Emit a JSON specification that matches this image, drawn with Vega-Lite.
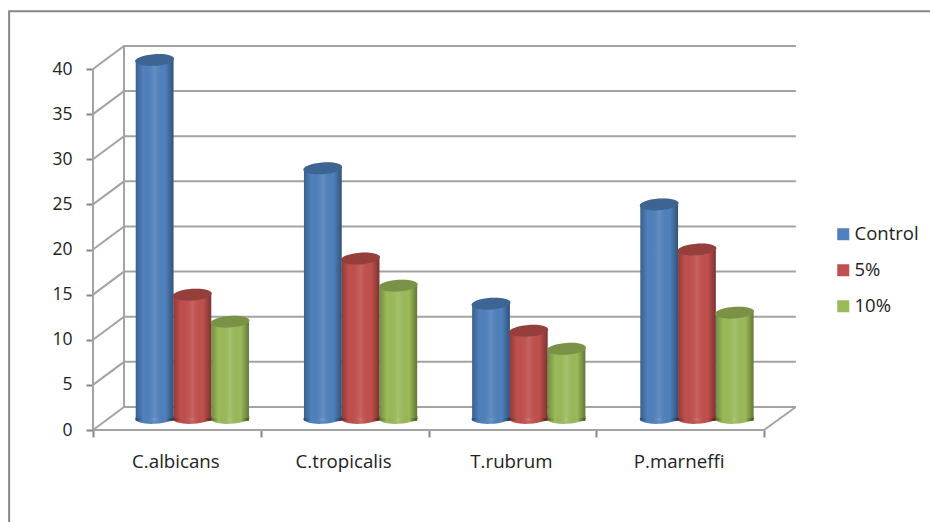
{
"$schema":"https://vega.github.io/schema/vega-lite/v6.json",
"width":671,"height":361,"autosize":"none",
"padding":{"left":93,"top":69,"right":166,"bottom":92},
"background":"white",
"config":{"view":{"stroke":null},"font":"Open Sans"},
"datasets":{
"frame":[{"fx":-0.5,"fy":-10.5},{"fx":-0.5,"fy":46.4},{"fx":5.1,"fy":46.4}],
"walls":[
{"line":"floorfront","gx":0,"gy":0},{"line":"floorfront","gx":4,"gy":0},
{"line":"floorright","gx":4,"gy":0},{"line":"floorright","gx":4.19,"gy":2.55},
{"line":"floorback","gx":0.185,"gy":2.55},{"line":"floorback","gx":4.19,"gy":2.55},
{"line":"floorleft","gx":0,"gy":0},{"line":"floorleft","gx":0.185,"gy":2.55},
{"line":"front","gx":0,"gy":0},{"line":"front","gx":0,"gy":40},
{"line":"back","gx":0.185,"gy":2.55},{"line":"back","gx":0.185,"gy":42.55},
{"line":"g5","gx":0,"gy":5},{"line":"g5","gx":0.185,"gy":7.55},{"line":"g5","gx":4.19,"gy":7.55},
{"line":"g10","gx":0,"gy":10},{"line":"g10","gx":0.185,"gy":12.55},{"line":"g10","gx":4.19,"gy":12.55},
{"line":"g15","gx":0,"gy":15},{"line":"g15","gx":0.185,"gy":17.55},{"line":"g15","gx":4.19,"gy":17.55},
{"line":"g20","gx":0,"gy":20},{"line":"g20","gx":0.185,"gy":22.55},{"line":"g20","gx":4.19,"gy":22.55},
{"line":"g25","gx":0,"gy":25},{"line":"g25","gx":0.185,"gy":27.55},{"line":"g25","gx":4.19,"gy":27.55},
{"line":"g30","gx":0,"gy":30},{"line":"g30","gx":0.185,"gy":32.55},{"line":"g30","gx":4.19,"gy":32.55},
{"line":"g35","gx":0,"gy":35},{"line":"g35","gx":0.185,"gy":37.55},{"line":"g35","gx":4.19,"gy":37.55},
{"line":"g40","gx":0,"gy":40},{"line":"g40","gx":0.185,"gy":42.55},{"line":"g40","gx":4.19,"gy":42.55}
],
"bars":[
{"species":"C.albicans","group":"Control","value":40},{"species":"C.albicans","group":"5%","value":14},{"species":"C.albicans","group":"10%","value":11},
{"species":"C.tropicalis","group":"Control","value":28},{"species":"C.tropicalis","group":"5%","value":18},{"species":"C.tropicalis","group":"10%","value":15},
{"species":"T.rubrum","group":"Control","value":13},{"species":"T.rubrum","group":"5%","value":10},{"species":"T.rubrum","group":"10%","value":8},
{"species":"P.marneffi","group":"Control","value":24},{"species":"P.marneffi","group":"5%","value":19},{"species":"P.marneffi","group":"10%","value":12}
]},
"layer":[
{"data":{"name":"frame"},"mark":{"type":"line","stroke":"#868686","strokeWidth":2,"clip":false},
 "encoding":{"x":{"field":"fx","type":"quantitative","scale":{"domain":[0,4],"nice":false,"zero":false},"axis":null},
 "y":{"field":"fy","type":"quantitative","scale":{"domain":[0,40],"nice":false},"axis":{"title":null,"values":[0,5,10,15,20,25,30,35,40],"grid":false,"domain":false,"tickColor":"#868686","tickSize":7,"tickWidth":2,"labelFontSize":17.5,"labelColor":"#222222","labelPadding":14,"labelFont":"Open Sans"}},"order":{"field":"fy"}}},
{"data":{"name":"walls"},"mark":{"type":"line","stroke":"#a3a3a3","strokeWidth":2,"clip":false},
 "encoding":{"x":{"field":"gx","type":"quantitative","scale":{"domain":[0,4],"nice":false,"zero":false},"axis":null},
 "y":{"field":"gy","type":"quantitative"},"detail":{"field":"line"},"order":{"field":"gx"}}},
{"data":{"name":"bars"},"mark":{"type":"bar","opacity":0},
 "encoding":{"x":{"field":"species","type":"nominal","sort":["C.albicans","C.tropicalis","T.rubrum","P.marneffi"],
  "scale":{"paddingInner":0,"paddingOuter":0},
  "axis":{"title":null,"labelAngle":0,"domain":false,"tickBand":"extent","tickExtra":true,"tickColor":"#868686","tickSize":7,"tickWidth":2,"labelFontSize":18.7,"labelColor":"#222222","labelPadding":15,"labelOffset":-1.5,"labelFont":"Open Sans"}},
 "y":{"field":"value","type":"quantitative"}}},
{"data":{"name":"bars"},
 "encoding":{
 "x":{"field":"species","type":"nominal","sort":["C.albicans","C.tropicalis","T.rubrum","P.marneffi"],
  "scale":{"paddingInner":0.327,"paddingOuter":0.165,"range":[15,688.3]},"axis":null},
 "xOffset":{"field":"group","type":"nominal","sort":["Control","5%","10%"],"scale":{"domain":["Control","5%","10%"]}}
 },
 "layer":[
 {"mark":{"type":"bar","yOffset":-9,"y2Offset":-12},
  "encoding":{"y":{"field":"value","type":"quantitative"},
  "color":{"field":"group","type":"nominal","scale":{"domain":["Control","5%","10%"],"range":["#4f81bd","#c0504d","#9bbb59"]},
   "legend":{"title":null,"orient":"none","legendX":741,"legendY":156,"symbolType":"square","symbolSize":144,"symbolStrokeWidth":0,"labelFontSize":18.5,"labelColor":"#222222","rowPadding":17,"labelOffset":2,"labelFont":"Open Sans"}}}},
 {"mark":{"type":"point","filled":true,"opacity":1,"size":1521,"angle":-3,"yOffset":-12,"shape":"M-1,0 A1,0.3 0 1 1 1,0 A1,0.3 0 1 1 -1,0 Z"},
  "encoding":{"y":{"datum":0,"type":"quantitative"},
  "color":{"field":"group","type":"nominal","scale":{"domain":["Control","5%","10%"],"range":["#4f81bd","#c0504d","#9bbb59"]},
   "legend":{"title":null,"orient":"none","legendX":741,"legendY":156,"symbolType":"square","symbolSize":144,"symbolStrokeWidth":0,"labelFontSize":18.5,"labelColor":"#222222","rowPadding":17,"labelOffset":2,"labelFont":"Open Sans"}}}},
 {"mark":{"type":"bar","yOffset":-9,"y2Offset":-12,"fill":{"gradient":"linear","x1":0,"y1":0,"x2":1,"y2":0,"stops":[{"offset":0,"color":"rgba(0,0,0,0.25)"},{"offset":0.2,"color":"rgba(0,0,0,0)"},{"offset":0.5,"color":"rgba(255,255,255,0.1)"},{"offset":0.78,"color":"rgba(0,0,0,0)"},{"offset":1,"color":"rgba(0,0,0,0.36)"}]}},
  "encoding":{"y":{"field":"value","type":"quantitative"}}},
 {"mark":{"type":"point","filled":true,"opacity":1,"size":1521,"yOffset":-12,"shape":"M-1,0 A1,0.3 0 1 0 1,0 Z","fill":{"gradient":"linear","x1":0,"y1":0,"x2":1,"y2":0,"stops":[{"offset":0,"color":"rgba(0,0,0,0.25)"},{"offset":0.2,"color":"rgba(0,0,0,0)"},{"offset":0.5,"color":"rgba(255,255,255,0.1)"},{"offset":0.78,"color":"rgba(0,0,0,0)"},{"offset":1,"color":"rgba(0,0,0,0.36)"}]}},
  "encoding":{"y":{"datum":0,"type":"quantitative"}}},
 {"mark":{"type":"point","filled":true,"opacity":1,"size":1521,"angle":-4,"yOffset":-9,"shape":"M-1,0 A1,0.3 0 1 1 1,0 A1,0.3 0 1 1 -1,0 Z"},
  "encoding":{"y":{"field":"value","type":"quantitative"},
  "color":{"field":"group","type":"nominal","scale":{"domain":["Control","5%","10%"],"range":["#4f81bd","#c0504d","#9bbb59"]},
   "legend":{"title":null,"orient":"none","legendX":741,"legendY":156,"symbolType":"square","symbolSize":144,"symbolStrokeWidth":0,"labelFontSize":18.5,"labelColor":"#222222","rowPadding":17,"labelOffset":2,"labelFont":"Open Sans"}}}},
 {"mark":{"type":"point","filled":true,"opacity":1,"size":1521,"angle":-4,"yOffset":-9,"shape":"M-1,0 A1,0.3 0 1 1 1,0 A1,0.3 0 1 1 -1,0 Z","fill":"#000000","fillOpacity":0.22},
  "encoding":{"y":{"field":"value","type":"quantitative"}}}
 ]}
],
"resolve":{"scale":{"x":"independent"}}
}
